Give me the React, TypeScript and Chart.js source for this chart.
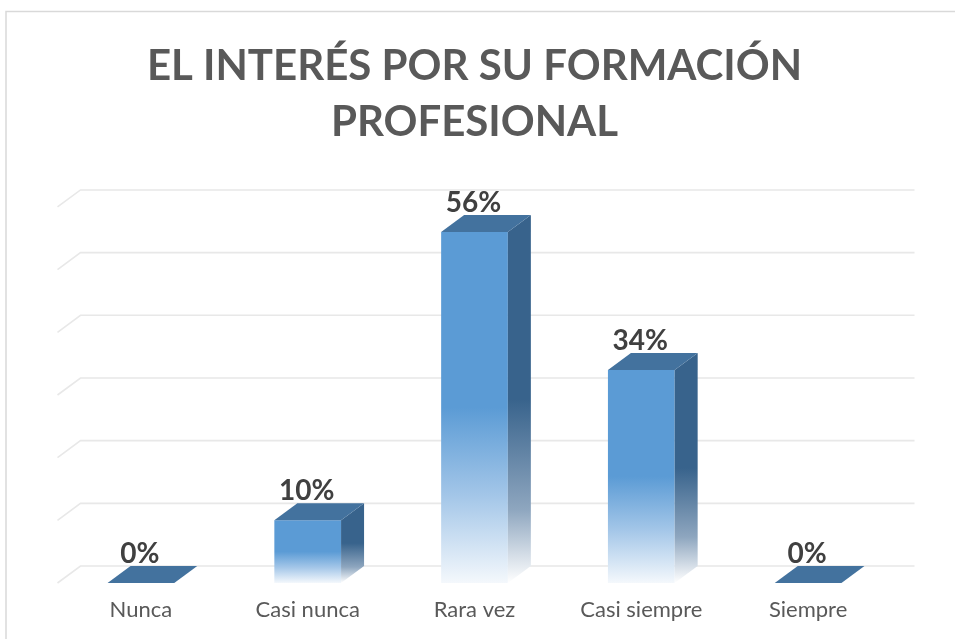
import React, { useEffect, useRef } from "react";
import { Chart, registerables } from "chart.js";

Chart.register(...registerables);

const categories = ["Nunca", "Casi nunca", "Rara vez", "Casi siempre", "Siempre"];
const values = [0, 10, 56, 34, 0];
const valueLabels = ["0%", "10%", "56%", "34%", "0%"];
const yTicks = [0, 10, 20, 30, 40, 50, 60];
const titleLines = ["EL INTERÉS POR SU FORMACIÓN", "PROFESIONAL"];

const DX = 23;
const DY = 17;
const FONT = "Lato, 'Open Sans', sans-serif";

function frontGradient(ctx: CanvasRenderingContext2D, top: number, bottom: number) {
  const g = ctx.createLinearGradient(0, top, 0, bottom);
  g.addColorStop(0, "#5B9BD5");
  g.addColorStop(0.5, "#5B9BD5");
  g.addColorStop(0.75, "#A3C6E8");
  g.addColorStop(1, "#F4F8FC");
  return g;
}

function sideGradient(ctx: CanvasRenderingContext2D, top: number, bottom: number) {
  const g = ctx.createLinearGradient(0, top, 0, bottom);
  g.addColorStop(0, "#38638C");
  g.addColorStop(0.5, "#38638C");
  g.addColorStop(0.8, "#8EA6BF");
  g.addColorStop(1, "#FFFFFF");
  return g;
}

const threeDPlugin = {
  id: "threeD",
  beforeDraw(chart: any) {
    const ctx = chart.ctx;
    ctx.save();
    ctx.strokeStyle = "#D9D9D9";
    ctx.lineWidth = 1.5;
    ctx.beginPath();
    ctx.moveTo(6, 1000);
    ctx.lineTo(6, 11.5);
    ctx.lineTo(1000, 11.5);
    ctx.stroke();
    ctx.restore();
  },
  beforeDatasetsDraw(chart: any) {
    const ctx = chart.ctx;
    const area = chart.chartArea;
    const y = chart.scales.y;
    ctx.save();
    ctx.strokeStyle = "#E8E8E8";
    ctx.lineWidth = 1.6;
    yTicks.forEach((v) => {
      const py = y.getPixelForValue(v);
      ctx.beginPath();
      ctx.moveTo(area.left, py);
      ctx.lineTo(area.left + DX, py - DY);
      ctx.lineTo(area.right + DX, py - DY);
      ctx.stroke();
    });
    ctx.restore();
  },
  afterDatasetsDraw(chart: any) {
    const ctx = chart.ctx;
    const meta = chart.getDatasetMeta(0);
    ctx.save();
    meta.data.forEach((el: any, i: number) => {
      const p = el.getProps(["x", "y", "base", "width"], true);
      const xL = p.x - p.width / 2;
      const xR = p.x + p.width / 2;
      const top = p.y;
      const base = p.base;
      if (base - top > 0.5) {
        ctx.fillStyle = sideGradient(ctx, top - DY, base);
        ctx.beginPath();
        ctx.moveTo(xR, top);
        ctx.lineTo(xR + DX, top - DY);
        ctx.lineTo(xR + DX, base - DY);
        ctx.lineTo(xR, base);
        ctx.closePath();
        ctx.fill();
      }
      ctx.fillStyle = "#43729E";
      ctx.beginPath();
      ctx.moveTo(xL, top);
      ctx.lineTo(xR, top);
      ctx.lineTo(xR + DX, top - DY);
      ctx.lineTo(xL + DX, top - DY);
      ctx.closePath();
      ctx.fill();

      ctx.fillStyle = "#404040";
      ctx.font = `bold 28px ${FONT}`;
      ctx.textAlign = "center";
      ctx.textBaseline = "alphabetic";
      ctx.fillText(valueLabels[i], p.x - 1, top - DY - 3);
    });
    ctx.restore();
  },
};

export default function App() {
  const ref = useRef<HTMLCanvasElement | null>(null);
  useEffect(() => {
    if (!ref.current) return;
    const chart = new Chart(ref.current, {
      type: "bar",
      data: {
        labels: categories,
        datasets: [
          {
            data: values,
            backgroundColor: (c: any) => {
              const ch = c.chart;
              if (!ch.chartArea || c.dataIndex === undefined) return "#5B9BD5";
              const ys = ch.scales.y;
              const top = ys.getPixelForValue(values[c.dataIndex]);
              const bot = ys.getPixelForValue(0);
              if (bot - top < 1) return "rgba(0,0,0,0)";
              return frontGradient(ch.ctx, top, bot);
            },
            borderWidth: 0,
            barPercentage: 0.4,
            categoryPercentage: 1,
          },
        ],
      },
      options: {
        responsive: false,
        animation: false,
        devicePixelRatio: 1,
        layout: { padding: { left: 57.5, right: 63.5, top: 0, bottom: 1.6 } },
        plugins: {
          legend: { display: false },
          tooltip: { enabled: false },
          title: {
            display: true,
            text: titleLines,
            color: "#595959",
            font: { family: FONT, size: 42, weight: "bold", lineHeight: 1.333 },
            padding: { top: 38, bottom: 57 },
          },
        },
        scales: {
          x: {
            grid: { display: false, drawTicks: false },
            border: { display: false },
            ticks: { color: "#595959", font: { family: FONT, size: 22 }, padding: 14 },
          },
          y: { display: false, min: 0, max: 60 },
        },
      },
      plugins: [threeDPlugin],
    });
    return () => chart.destroy();
  }, []);
  return (
    <div style={{ position: "absolute", left: 0, top: 0, width: 955, height: 639, background: "#fff" }}>
      <canvas ref={ref} width={955} height={639} />
    </div>
  );
}
